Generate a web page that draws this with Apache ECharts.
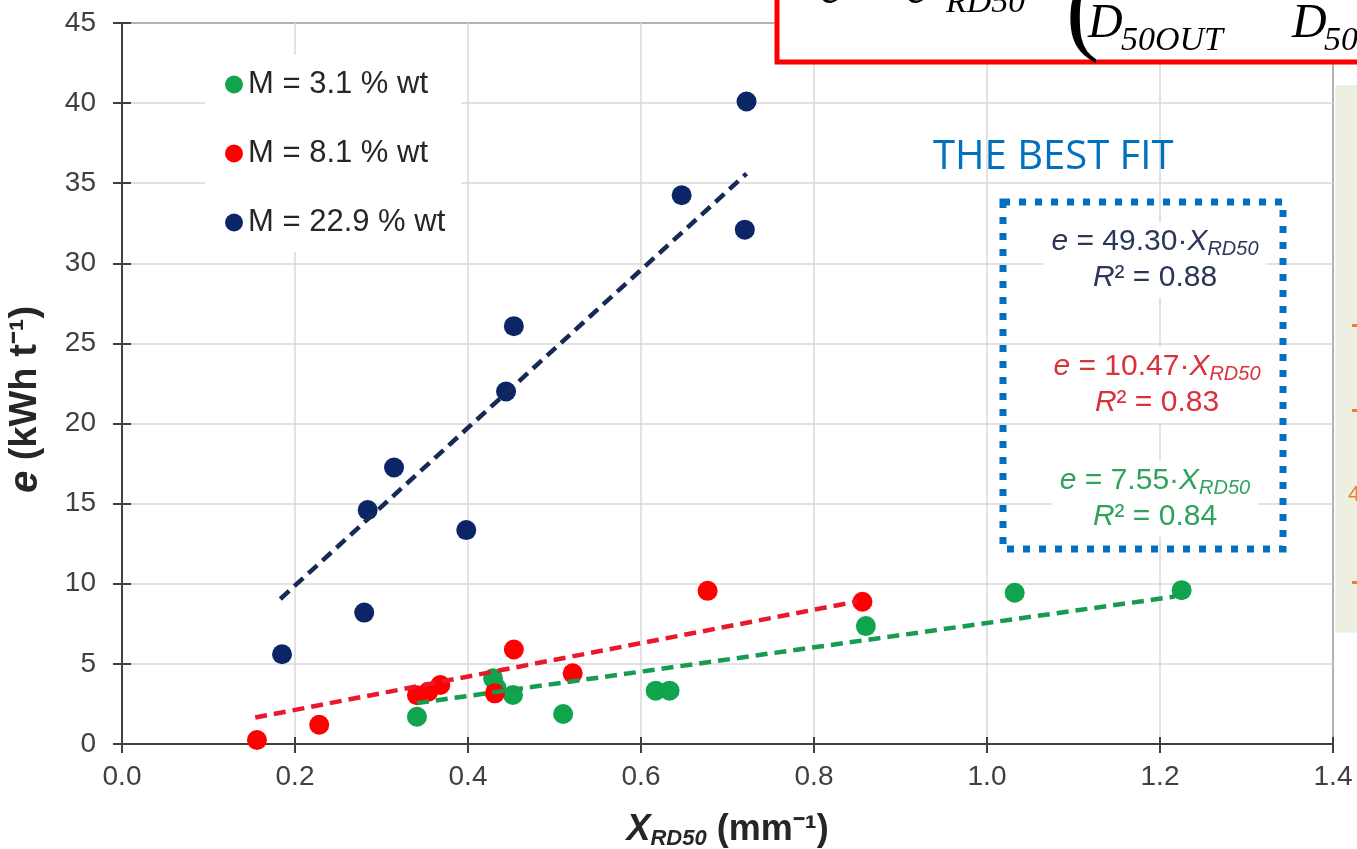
<!DOCTYPE html>
<html>
<head>
<meta charset="utf-8">
<script src="https://cdn.jsdelivr.net/npm/echarts@6/dist/echarts.min.js"></script>
<style>html,body{margin:0;padding:0;background:#fff;}#c{width:1357px;height:849px;}</style>
</head>
<body>
<div id="c"></div>
<script>
// ---- data ----
const seriesNames = ['M = 3.1 % wt', 'M = 8.1 % wt', 'M = 22.9 % wt'];
const greenPts = [[0.341,1.70],[0.429,4.10],[0.433,3.50],[0.452,3.06],[0.510,1.87],[0.617,3.33],[0.633,3.33],[0.860,7.36],[1.032,9.44],[1.225,9.60]];
const redPts = [[0.156,0.25],[0.228,1.20],[0.341,3.05],[0.354,3.26],[0.368,3.68],[0.431,3.16],[0.453,5.90],[0.521,4.41],[0.677,9.56],[0.856,8.88]];
const navyPts = [[0.185,5.60],[0.280,8.20],[0.284,14.60],[0.3145,17.26],[0.398,13.35],[0.444,22.00],[0.453,26.08],[0.647,34.25],[0.720,32.10],[0.722,40.10]];
// fitted trend lines (end points)
const greenTrend = [[0.341,2.55],[1.217,9.20]];
const redTrend = [[0.154,1.65],[0.850,8.90]];
const navyTrend = [[0.183,9.05],[0.722,35.60]];
// equation labels
const eqSlopes = ['49.30', '10.47', '7.55'];
const eqR2 = ['0.88', '0.83', '0.84'];

const colors = ['#10a44c', '#ff0000', '#0b2566'];
const trendColors = ['#179b4e', '#e8192c', '#172a57'];
const eqColors = ['#2b3658', '#d9323b', '#2fa35c'];

const chart = echarts.init(document.getElementById('c'), null, {renderer: 'canvas'});
const F = 'Liberation Sans, Arial, sans-serif';

function scatter(name, data, color) {
  return {name, type: 'scatter', data, symbol: 'circle', symbolSize: 20,
    itemStyle: {color, opacity: 1}, z: 3};
}
function trend(data, color) {
  return {type: 'line', data, symbol: 'none', silent: true, z: 4,
    lineStyle: {color, width: 4.5, type: [12, 7]}};
}
function eqText(i, cx, cy) {
  return {
    type: 'text', x: cx, y: cy, z: 20,
    style: {
      text: '{i|e} = ' + eqSlopes[i] + '·{i|X}{s|RD50}\n{i|R}² = ' + eqR2[i],
      align: 'center', verticalAlign: 'middle',
      fill: eqColors[i], fontFamily: F, fontSize: 30, lineHeight: 36,
      backgroundColor: 'rgba(255,255,255,0.92)', padding: [2, 8],
      rich: {
        i: {fontStyle: 'italic', fontFamily: F, fontSize: 30, fill: eqColors[i], color: eqColors[i]},
        s: {fontStyle: 'italic', fontFamily: F, fontSize: 20, fill: eqColors[i], color: eqColors[i], padding: [15, 0, 0, 0]}
      }
    }
  };
}

const serif = 'Liberation Serif, DejaVu Serif, serif';
const option = {
  backgroundColor: '#ffffff',
  animation: false,
  grid: {left: 122, right: 24, top: 23, bottom: 105, show: true, outerBoundsMode: 'none', containLabel: false,
    borderColor: '#404040', borderWidth: 2, backgroundColor: 'transparent'},
  legend: {
    data: seriesNames, orient: 'vertical', left: 205, top: 55,
    backgroundColor: '#ffffff', padding: [14, 16, 14, 20],
    itemWidth: 18, itemHeight: 18, itemGap: 38, icon: 'circle',
    textStyle: {fontFamily: F, fontSize: 31, color: '#262626', padding: [0, 0, 0, 0]}
  },
  xAxis: [{
    type: 'value', min: 0, max: 1.4, interval: 0.2,
    name: '{x|X}{s|RD50}{n| (mm⁻¹)}', nameLocation: 'middle', nameGap: 66,
    nameTextStyle: {rich: {
      x: {fontFamily: F, fontSize: 36, fontWeight: 'bold', fontStyle: 'italic', color: '#262626'},
      s: {fontFamily: F, fontSize: 22, fontWeight: 'bold', fontStyle: 'italic', color: '#262626', padding: [18, 0, 0, 0]},
      n: {fontFamily: F, fontSize: 36, fontWeight: 'bold', color: '#262626'}
    }},
    axisLine: {show: true, lineStyle: {color: '#404040', width: 2}},
    axisTick: {show: true, length: 9, lineStyle: {color: '#404040', width: 2}},
    axisLabel: {fontFamily: F, fontSize: 28, color: '#404040', margin: 19, formatter: v => v.toFixed(1)},
    splitLine: {show: true, lineStyle: {color: '#d9d9d9', width: 1.5}}
  }, {
    type: 'value', min: 0, max: 1.4, interval: 0.2, position: 'bottom', gridIndex: 0,
    axisLine: {show: false}, axisLabel: {show: false}, splitLine: {show: false},
    axisTick: {show: true, inside: true, length: 7, lineStyle: {color: '#404040', width: 2}}
  }],
  yAxis: [{
    type: 'value', min: 0, max: 45, interval: 5,
    name: '{e|e}{n| (kWh t⁻¹)}', nameLocation: 'middle', nameGap: 76, nameRotate: 90,
    nameTextStyle: {padding: [0, 32, 0, 0], rich: {
      e: {fontFamily: F, fontSize: 40, fontWeight: 'bold', fontStyle: 'italic', color: '#262626'},
      n: {fontFamily: F, fontSize: 38, fontWeight: 'bold', color: '#262626'}
    }},
    axisLine: {show: true, lineStyle: {color: '#404040', width: 2}},
    axisTick: {show: true, length: 9, lineStyle: {color: '#404040', width: 2}},
    axisLabel: {fontFamily: F, fontSize: 28, color: '#404040', margin: 26},
    splitLine: {show: true, lineStyle: {color: '#d9d9d9', width: 1.5}}
  }, {
    type: 'value', min: 0, max: 45, interval: 5, position: 'left', gridIndex: 0,
    axisLine: {show: false}, axisLabel: {show: false}, splitLine: {show: false},
    axisTick: {show: true, inside: true, length: 9, lineStyle: {color: '#404040', width: 2}}
  }],
  series: [
    scatter(seriesNames[0], greenPts, colors[0]),
    scatter(seriesNames[1], redPts, colors[1]),
    scatter(seriesNames[2], navyPts, colors[2]),
    trend(greenTrend, trendColors[0]),
    trend(redTrend, trendColors[1]),
    trend(navyTrend, trendColors[2])
  ],
  graphic: [
    // light panel on the right edge
    {type: 'rect', z: 30, shape: {x: 1336, y: 86, width: 30, height: 546}, style: {fill: '#edf0e1', stroke: '#dfe5ee', lineWidth: 1}},
    {type: 'rect', z: 31, shape: {x: 1352, y: 324, width: 5, height: 3}, style: {fill: '#ed7d31'}},
    {type: 'rect', z: 31, shape: {x: 1352, y: 409, width: 5, height: 3}, style: {fill: '#ed7d31'}},
    {type: 'text', z: 31, x: 1348, y: 484, style: {text: '4', fontFamily: F, fontSize: 22, fill: '#ed7d31'}},
    {type: 'rect', z: 31, shape: {x: 1352, y: 581, width: 5, height: 3}, style: {fill: '#ed7d31'}},
    // red formula box (cut at the top of the image)
    {type: 'rect', z: 40, shape: {x: 777, y: -20, width: 620, height: 82}, style: {fill: '#ffffff', stroke: '#ff0000', lineWidth: 5}},
    {type: 'text', z: 41, x: 820, y: 14, style: {text: 'e', fontFamily: serif, fontStyle: 'italic', fontSize: 48, fill: '#000', verticalAlign: 'bottom'}},
    {type: 'text', z: 41, x: 906, y: 14, style: {text: 'c', fontFamily: serif, fontStyle: 'italic', fontSize: 48, fill: '#000', verticalAlign: 'bottom'}},
    {type: 'text', z: 41, x: 946, y: 20, style: {text: 'RD50', fontFamily: serif, fontStyle: 'italic', fontSize: 34, fill: '#000', verticalAlign: 'bottom'}},
    {type: 'text', z: 41, x: 1066, y: 66, style: {text: '(', fontFamily: serif, fontSize: 100, fill: '#000', verticalAlign: 'bottom'}},
    {type: 'text', z: 41, x: 1088, y: 48, style: {text: 'D', fontFamily: serif, fontStyle: 'italic', fontSize: 48, fill: '#000', verticalAlign: 'bottom'}},
    {type: 'text', z: 41, x: 1121, y: 58, style: {text: '50OUT', fontFamily: serif, fontStyle: 'italic', fontSize: 34, fill: '#000', verticalAlign: 'bottom'}},
    {type: 'text', z: 41, x: 1292, y: 48, style: {text: 'D', fontFamily: serif, fontStyle: 'italic', fontSize: 48, fill: '#000', verticalAlign: 'bottom'}},
    {type: 'text', z: 41, x: 1324, y: 58, style: {text: '50', fontFamily: serif, fontStyle: 'italic', fontSize: 34, fill: '#000', verticalAlign: 'bottom'}},
    // THE BEST FIT annotation
    {type: 'text', z: 20, x: 933, y: 138, style: {text: 'THE BEST FIT', fontFamily: 'Open Sans, Liberation Sans, sans-serif', fontSize: 40, fill: '#0070c0'}},
    {type: 'rect', z: 20, shape: {x: 1003, y: 202, width: 280, height: 347}, style: {fill: 'none', stroke: '#0070c0', lineWidth: 7, lineDash: [7, 9]}},
    eqText(0, 1155, 260),
    eqText(1, 1157, 385),
    eqText(2, 1155, 499)
  ]
};
chart.setOption(option);
</script>
</body>
</html>
